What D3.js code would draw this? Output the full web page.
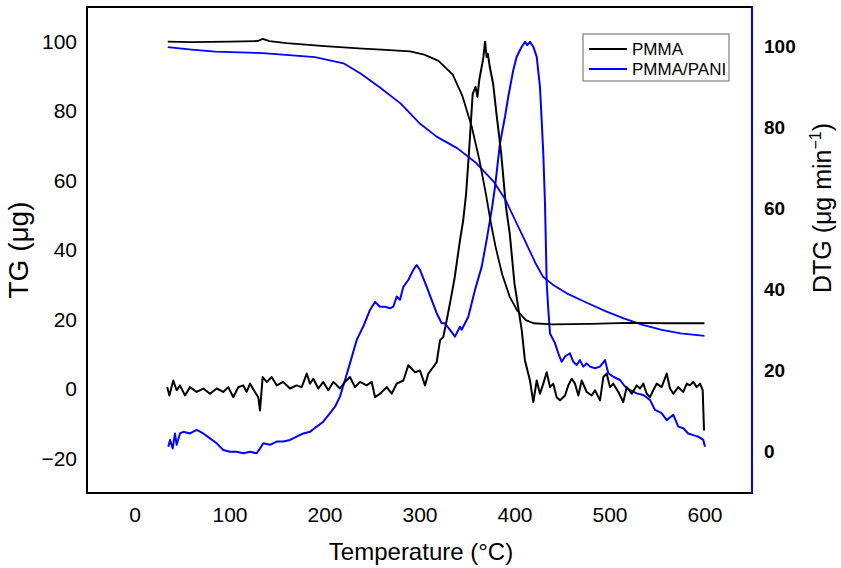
<!DOCTYPE html>
<html>
<head>
<meta charset="utf-8">
<script src="https://cdn.jsdelivr.net/npm/d3@7"></script>
<style>
  body { margin: 0; background: #fff; }
  svg { font-family: "Liberation Sans", Arial, sans-serif; }
</style>
</head>
<body>
<div id="chart"></div>
<script>

/* data */

// PMMA thermogravimetric curve (left axis)
const pmmaTgT = [35, 60, 100, 130, 135, 142, 160, 200, 240, 260, 290, 305, 320, 335, 345, 355, 363, 370, 375, 380, 387, 395, 403, 412, 420, 440, 480, 520, 560, 600];
const pmmaTgV = [100, 99.9, 100, 100.2, 100.8, 100.2, 99.6, 98.7, 98.0, 97.7, 97.2, 96.3, 94.5, 90.5, 84.5, 75.5, 66, 56, 48, 41, 33, 26.5, 22.5, 19.8, 18.9, 18.6, 18.7, 19.0, 18.9, 18.9];

// PMMA derivative curve (left axis)
const pmmaDtgT = [34.5, 36.7, 40.8, 44.4, 47.9, 53.2, 58.4, 65.5, 72.4, 79.5, 86.5, 93.5, 98.7, 104, 109.3, 114.5, 118.1, 121.6, 126.8, 130.3, 132.1, 134.9, 139.2, 144.4, 149.7, 156.6, 163.7, 170.7, 176, 181.3, 184.7, 188.2, 193.5, 198.7, 204, 209.3, 216.3, 221.6, 226.8, 232.1, 237.4, 244.4, 249.7, 253.2, 258.4, 265.5, 270.7, 276, 283, 288.2, 295.3, 300.5, 305.8, 309.3, 314.5, 318.1, 321.6, 325, 328.6, 333, 337, 342.6, 346, 349, 352, 356, 359, 361, 363, 367, 369, 370.7, 372, 374, 377.5, 381, 386, 391, 395, 400, 407.6, 411, 416.3, 419.8, 423.4, 426.8, 430.3, 433.9, 437.4, 440.8, 444.4, 447.9, 453.2, 456.6, 460.2, 463.7, 467.2, 470.7, 476, 481.3, 484.7, 490, 493.5, 497, 500.5, 504, 509.3, 514.5, 518.1, 523.4, 528.6, 532.1, 535.6, 539.2, 542.6, 546.1, 549.7, 554.9, 560.2, 563.7, 567.2, 572.4, 577.7, 581.3, 584.7, 588.2, 591.8, 595.3, 598.1, 599.5];
const pmmaDtgV = [0.5, -1.9, 2.4, -0.4, 1.0, -1.9, 0.5, -0.9, 0.1, -1.4, 0.1, -0.9, 0.5, -2.4, 0.5, 1.0, -0.9, 1.5, -0.9, -2.4, -6.2, 3.4, 2.0, 3.4, 1.0, 2.0, 0.1, 1.0, 0.5, 4.4, 1.5, 2.9, 0.1, 2.0, -0.4, 2.0, 0.1, 2.0, 3.4, 0.5, 2.0, 1.0, 2.0, -2.4, -1.4, 0.5, -1.4, 1.5, 2.4, 6.8, 4.8, 5.3, 1.0, 4.4, 6.3, 7.7, 14.0, 14.9, 19.7, 26, 32, 42.8, 48.5, 56, 67.8, 85, 87, 84.1, 89.2, 95, 100, 95.6, 96.5, 92.7, 87.9, 79.3, 67.8, 52.4, 44.7, 30.3, 16.9, 8.2, 2.4, -3.8, 2.4, -1.4, 1.5, 4.8, 0.5, 1.5, -2.4, -3.3, -1.9, 1.0, 2.9, 1.5, -1.9, 2.4, -0.9, -1.9, -0.4, -3.3, 3.4, 4.4, 0.5, 1.5, -0.9, -3.8, 0.5, -1.4, 1.0, 0.1, 1.5, -1.4, -2.4, -0.4, 1.5, 0.5, 4.4, 0.1, -1.4, 0.5, -0.9, 1.5, 1.0, 2.0, 0.5, 1.5, -0.4, -12];

// PMMA/PANI thermogravimetric curve (right axis)
const paniTgT = [35, 60, 85, 135, 190, 220, 238, 258, 280, 300, 318, 340, 360, 378, 390, 409, 422, 430, 440, 455, 475, 497, 515, 535, 555, 575, 600];
const paniTgV = [99.8, 99.2, 98.7, 98.3, 97.3, 95.8, 93.3, 89.9, 85.9, 81.0, 77.7, 74.8, 71.1, 66.6, 62.3, 53.0, 46.5, 43.1, 41.2, 39.0, 36.8, 34.5, 32.8, 31.2, 30.0, 29.1, 28.5];

// PMMA/PANI derivative curve (right axis)
const paniDtgT = [35.6, 37.4, 40.2, 42.6, 44.4, 47.9, 51.4, 58.4, 65.5, 72.4, 79.5, 86.5, 93.5, 100.5, 107.6, 114.5, 121.6, 128.6, 132.1, 135.6, 142.6, 149.7, 156.6, 163.7, 170.7, 177.7, 184.7, 191.8, 198.7, 205.8, 211.1, 216.3, 221.6, 226.8, 233.9, 240.8, 247.9, 253.2, 258.4, 263.7, 269, 272.4, 276, 279.5, 283, 288.2, 293.5, 297, 300.5, 307.6, 312.8, 318.1, 323.4, 326.8, 332.1, 337.4, 342.6, 344.4, 351.4, 358.4, 365.5, 370.7, 376, 379.5, 384.7, 390, 393.5, 398.7, 402.3, 407.6, 411.1, 413.5, 416.3, 419.8, 423.4, 426.8, 428.6, 430.3, 432.1, 433.9, 435.6, 437.4, 442.6, 446.1, 449.7, 453.2, 458.4, 461.9, 465.5, 468.9, 472.4, 476, 479.5, 484.7, 490, 495.3, 498.7, 504, 511.1, 516.3, 521.6, 528.6, 535.6, 542.6, 547.9, 554.9, 560.2, 567.2, 572.4, 577.7, 582.9, 588.2, 593.5, 598.7, 600.5];
const paniDtgV = [1.1, 2.8, 0.7, 4.4, 1.6, 4.4, 4.8, 4.4, 5.3, 4.4, 3.2, 2.0, 0.3, -0.1, -0.1, -0.5, -0.1, -0.5, 0.7, 2.0, 1.6, 2.4, 2.4, 2.8, 3.6, 4.4, 4.8, 6.1, 7.3, 9.4, 11.0, 13.5, 17.6, 21.7, 27.5, 30.8, 34.9, 36.9, 35.7, 35.7, 35.3, 35.7, 38.2, 37.4, 40.6, 42.3, 44.8, 46.0, 44.8, 40.6, 37.4, 34.1, 31.6, 31.6, 30.0, 28.3, 30.8, 30.0, 33.2, 39.8, 45.6, 52.2, 59.6, 65.3, 76.0, 82.6, 87.6, 94.1, 97.4, 99.9, 101.1, 100.3, 101.1, 99.9, 97.4, 90.0, 81.8, 73.6, 61.2, 41.5, 34.9, 29.1, 26.7, 24.2, 22.1, 23.4, 24.2, 22.1, 21.3, 22.5, 20.9, 21.7, 20.9, 20.5, 20.9, 22.5, 19.3, 18.4, 17.6, 16.0, 15.1, 14.3, 13.9, 12.7, 10.2, 9.4, 7.7, 9.0, 6.1, 5.7, 4.4, 4.0, 3.6, 2.8, 1.1];

const xTicks = [0, 100, 200, 300, 400, 500, 600];
const leftTicks = [-20, 0, 20, 40, 60, 80, 100];
const rightTicks = [0, 20, 40, 60, 80, 100];
const seriesNames = ["PMMA", "PMMA/PANI"];
const seriesColors = ["#000000", "#0000ff"];

/* layout */
let width = 841;
let height = 568;
let margin = {top: 7, bottom: 75, left: 87, right: 89};
let pWidth = width - margin.left - margin.right;
let pHeight = height - margin.top - margin.bottom;

let svg = d3.select("#chart")
            .append("svg")
              .attr("width", width)
              .attr("height", height);

let xScale = d3.scaleLinear()
               .domain([-50, 650])
               .range([margin.left, margin.left + pWidth]);

let yLeft = d3.scaleLinear()
              .domain([-30, 110])
              .range([margin.top + pHeight, margin.top]);

let yRight = d3.scaleLinear()
               .domain([-10.3, 109.7])
               .range([margin.top + pHeight, margin.top]);

// axes: labels only, no tick marks
let xAxis = svg.append("g")
   .attr("transform", `translate(0, ${margin.top + pHeight})`)
   .call(d3.axisBottom(xScale).tickValues(xTicks).tickSize(0).tickPadding(14));

let lAxis = svg.append("g")
   .attr("transform", `translate(${margin.left}, 0)`)
   .call(d3.axisLeft(yLeft).tickValues(leftTicks).tickSize(0).tickPadding(10));

let rAxis = svg.append("g")
   .attr("transform", `translate(${margin.left + pWidth}, 0)`)
   .call(d3.axisRight(yRight).tickValues(rightTicks).tickSize(0).tickPadding(12));

[xAxis, lAxis, rAxis].forEach(a => {
  a.select(".domain").remove();
  a.selectAll("text")
    .attr("font-family", "Liberation Sans, Arial, sans-serif")
    .attr("font-size", 21)
    .attr("fill", "#000");
});
rAxis.selectAll("text")
     .attr("font-weight", "bold")
     .attr("font-size", 19);

// curves
function drawCurve(ts, vs, yScale, color, w) {
  let pts = ts.map((t, i) => [t, vs[i]]);
  let line = d3.line()
               .x(d => xScale(d[0]))
               .y(d => yScale(d[1]));
  svg.append("path")
     .datum(pts)
     .attr("d", line)
     .attr("fill", "none")
     .attr("stroke", color)
     .attr("stroke-width", w)
     .attr("stroke-linejoin", "round");
}

drawCurve(paniDtgT, paniDtgV, yRight, seriesColors[1], 2);
drawCurve(pmmaDtgT, pmmaDtgV, yLeft, seriesColors[0], 2);
drawCurve(paniTgT, paniTgV, yRight, seriesColors[1], 1.8);
drawCurve(pmmaTgT, pmmaTgV, yLeft, seriesColors[0], 1.8);

// frame
svg.append("rect")
   .attr("x", margin.left)
   .attr("y", margin.top)
   .attr("width", pWidth)
   .attr("height", pHeight)
   .attr("fill", "none")
   .attr("stroke", "#000")
   .attr("stroke-width", 2);

svg.append("line")
   .attr("x1", margin.left + pWidth)
   .attr("x2", margin.left + pWidth)
   .attr("y1", margin.top)
   .attr("y2", margin.top + pHeight)
   .attr("stroke", "#0000ff")
   .attr("stroke-width", 2);

// axis titles
svg.append("text")
   .attr("x", 421)
   .attr("y", 560)
   .attr("text-anchor", "middle")
   .attr("font-size", 24)
   .text("Temperature (°C)");

svg.append("text")
   .attr("transform", "translate(28, 250) rotate(-90)")
   .attr("text-anchor", "middle")
   .attr("font-size", 28)
   .text("TG (μg)");

let dtgTitle = svg.append("text")
   .attr("transform", "translate(831, 208) rotate(-90)")
   .attr("text-anchor", "middle")
   .attr("font-size", 25);
dtgTitle.append("tspan").text("DTG (μg min");
dtgTitle.append("tspan").attr("font-size", 16).attr("dy", -10).text("−1");
dtgTitle.append("tspan").attr("dy", 10).text(")");

// legend
let legend = svg.append("g")
                .attr("transform", "translate(583, 34)");

legend.append("rect")
      .attr("width", 146)
      .attr("height", 47)
      .attr("fill", "#fff")
      .attr("stroke", "#666")
      .attr("stroke-width", 1);

let items = legend.selectAll("g.item")
                  .data(seriesNames)
                  .enter()
                  .append("g")
                    .attr("class", "item")
                    .attr("transform", (d, i) => `translate(0, ${15 + i * 20})`);

items.append("line")
     .attr("x1", 6)
     .attr("x2", 44)
     .attr("stroke", (d, i) => seriesColors[i])
     .attr("stroke-width", 2);

items.append("text")
     .attr("x", 49)
     .attr("dy", "0.35em")
     .attr("font-size", 17)
     .text(d => d);

</script>
</body>
</html>
